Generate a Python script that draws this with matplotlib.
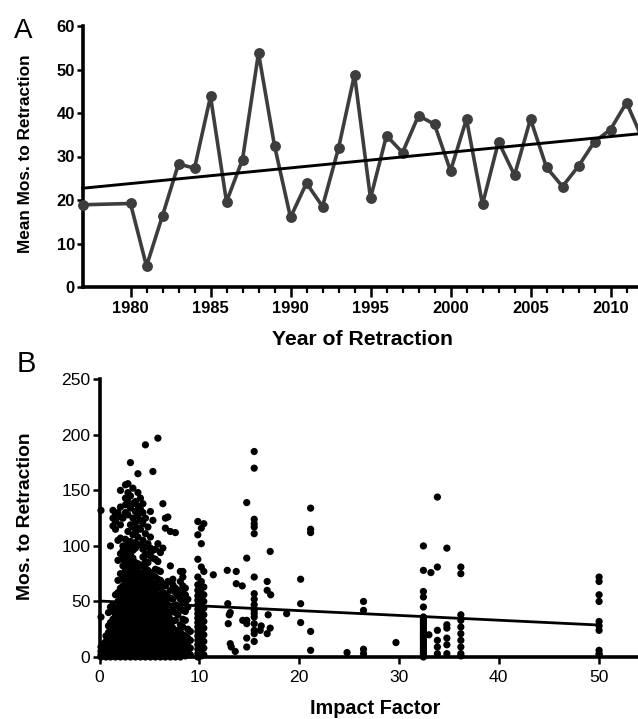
import matplotlib
matplotlib.use('Agg')
import matplotlib.pyplot as plt
import numpy as np

plt.rcParams['font.family'] = ['Liberation Sans', 'DejaVu Sans']

# ---------------- Panel A data ----------------
years = [1977, 1980, 1981, 1982, 1983, 1984, 1985, 1986, 1987, 1988, 1989,
         1990, 1991, 1992, 1993, 1994, 1995, 1996, 1997, 1998, 1999, 2000,
         2001, 2002, 2003, 2004, 2005, 2006, 2007, 2008, 2009, 2010, 2011, 2012]
mean_months = [18.9, 19.2, 4.8, 16.4, 28.3, 27.3, 43.8, 19.6, 29.3, 53.8, 32.5,
               16.0, 23.9, 18.5, 31.9, 48.8, 20.4, 34.8, 30.9, 39.4, 37.4, 26.7,
               38.6, 19.0, 33.4, 25.7, 38.6, 27.5, 23.1, 27.8, 33.4, 36.2, 42.4, 34.0]
trend_a_intercept = 22.7   # value of fitted line at first year
trend_a_slope = 0.36       # months per year

year_ticks = [1980, 1985, 1990, 1995, 2000, 2005, 2010]
a_yticks = [0, 10, 20, 30, 40, 50, 60]

# ---------------- Panel B data ----------------
# dense cluster, grouped by impact-factor column
dense_if = [0.15, 0.4, 0.65, 0.9, 1.1, 1.35, 1.6, 1.85, 2.1, 2.35, 2.6, 2.85,
            3.1, 3.35, 3.6, 3.85, 4.1, 4.35, 4.6, 4.85, 5.1, 5.35, 5.6, 5.85,
            6.1, 6.35, 6.6, 6.85, 7.1, 7.35, 7.6, 7.85, 8.1, 8.35, 8.6, 8.85,
            9.1, 9.85, 10.2, 10.45]
dense_months = [
    [0, 2, 5, 9, 36, 132],
    [1, 4, 8, 12],
    [0, 3, 6, 10, 14, 19],
    [2, 5, 9, 13, 17, 22, 28, 40],
    [0, 3, 7, 11, 15, 20, 25, 31, 45, 100],
    [1, 5, 9, 13, 18, 23, 28, 34, 41, 47, 118, 125, 132],
    [0, 3, 7, 11, 16, 20, 26, 31, 37, 42, 56, 115, 122, 128],
    [2, 6, 10, 14, 18, 23, 28, 33, 38, 44, 50, 58, 69, 87, 105, 130],
    [0, 4, 8, 12, 16, 20, 25, 30, 35, 40, 45, 50, 55, 62, 75, 93, 107, 119, 126, 135, 150],
    [1, 5, 9, 13, 17, 22, 27, 32, 37, 42, 47, 52, 58, 64, 70, 82, 88, 96, 100, 125],
    [0, 3, 7, 11, 15, 19, 24, 29, 34, 39, 44, 49, 54, 60, 66, 72, 78, 85, 92, 98, 106, 130, 137, 143, 155],
    [2, 6, 10, 14, 18, 22, 27, 32, 37, 42, 47, 52, 57, 63, 69, 75, 81, 87, 94, 101, 113, 128, 140, 148, 156],
    [0, 4, 8, 12, 16, 21, 26, 31, 36, 41, 46, 51, 56, 62, 68, 74, 80, 86, 92, 99, 104, 119, 134, 145, 175],
    [1, 5, 9, 13, 17, 22, 27, 32, 37, 42, 47, 52, 58, 64, 70, 76, 83, 89, 96, 110, 117, 125, 138, 152],
    [0, 3, 7, 11, 15, 20, 25, 30, 35, 40, 45, 50, 55, 61, 67, 73, 79, 85, 98, 103, 112, 121, 131, 140],
    [2, 6, 10, 14, 18, 23, 28, 33, 38, 43, 48, 53, 59, 65, 71, 77, 84, 108, 116, 127, 136, 148, 165],
    [0, 4, 8, 12, 16, 21, 26, 31, 36, 41, 46, 51, 56, 62, 68, 75, 82, 101, 115, 123, 133, 143],
    [1, 5, 9, 13, 17, 22, 27, 32, 37, 42, 47, 52, 58, 64, 70, 76, 83, 90, 97, 105, 120, 130, 138],
    [0, 3, 7, 11, 15, 20, 25, 30, 35, 40, 45, 50, 55, 61, 67, 73, 80, 86, 92, 99, 111, 125, 191],
    [2, 6, 10, 14, 18, 23, 28, 33, 38, 43, 48, 53, 59, 65, 71, 78, 85, 93, 102, 117],
    [0, 4, 8, 12, 16, 21, 26, 31, 36, 41, 46, 51, 57, 63, 69, 76, 91, 98, 108, 131],
    [1, 5, 9, 13, 17, 22, 27, 32, 37, 42, 48, 54, 60, 66, 73, 89, 96, 123, 167],
    [0, 3, 7, 11, 15, 20, 25, 30, 35, 40, 46, 52, 58, 65, 72, 79, 88, 97],
    [2, 6, 10, 14, 18, 23, 28, 33, 38, 44, 50, 56, 63, 70, 78, 86, 102, 197],
    [0, 4, 8, 12, 16, 21, 26, 31, 37, 43, 49, 55, 62, 69, 77, 94],
    [1, 5, 9, 13, 17, 22, 27, 33, 39, 45, 51, 58, 66, 98, 138],
    [0, 3, 7, 11, 15, 20, 25, 31, 37, 43, 50, 57, 64, 116, 125],
    [2, 6, 10, 14, 19, 24, 29, 35, 41, 47, 54, 68, 126],
    [0, 4, 8, 13, 18, 23, 28, 34, 40, 53, 60, 82, 113],
    [1, 5, 10, 15, 20, 26, 32, 45, 52, 65, 70],
    [0, 4, 9, 14, 20, 33, 40, 47, 58, 62, 112],
    [2, 7, 12, 18, 24, 38, 46, 55, 60],
    [0, 5, 10, 16, 22, 29, 44, 52, 68, 77],
    [3, 8, 14, 20, 27, 34, 42, 50, 58, 64, 72, 77],
    [1, 6, 12, 19, 33, 41, 49, 56, 62],
    [4, 10, 17, 25, 45, 52],
    [2, 8, 15, 23],
    [0, 3, 7, 11, 15, 19, 23, 27, 31, 35, 39, 43, 47, 51, 55, 60, 65, 72, 88, 110, 122],
    [1, 5, 9, 13, 17, 21, 25, 29, 33, 37, 41, 45, 49, 53, 57, 62, 68, 81, 102, 116],
    [2, 8, 14, 20, 26, 32, 38, 44, 50, 56, 63, 77, 120],
]

# journals with a single high impact factor (vertical columns)
column_if = [15.5, 14.75, 32.45, 33.85, 34.8, 36.2, 50.05]
column_months = [
    [185, 170, 124, 120, 117, 111, 72, 57, 52, 47, 42, 39, 36, 30, 24, 21, 14],
    [139, 89, 33, 30, 17, 9],
    [100, 78, 59, 54, 45, 36, 34, 32, 30, 28, 26, 24, 22, 20, 18, 16, 14, 12,
     10, 8, 6, 4, 2, 0],
    [144, 81, 24, 15, 9, 3],
    [98, 29, 26, 17, 11, 3],
    [81, 75, 38, 33, 27, 21, 15, 9, 3, 1],
    [72, 68, 56, 50, 32, 28, 24, 6, 3, 2],
]

# remaining scattered points
sparse_if = [11.4, 12.8, 13.7, 12.85, 13.1, 13.0, 12.9, 13.1, 13.2, 13.6, 13.7,
             14.3, 14.35, 33.2, 33.0, 16.8, 16.8, 17.15, 17.1, 16.1, 17.1, 16.8,
             16.2, 16.9, 18.75, 20.15, 20.15, 20.15, 21.15, 21.15, 21.15, 21.15,
             21.15, 24.8, 26.45, 26.45, 26.45, 26.45, 29.7]
sparse_months = [74, 78, 77, 48, 40, 38, 30, 12, 9, 5, 66,
                 64, 33, 76, 20, 68, 60, 56, 95, 24, 26, 21,
                 28, 38, 39, 70, 48, 31, 134, 115, 112, 23,
                 6, 4, 50, 42, 7, 3, 13]

trend_b_intercept = 50.4
trend_b_slope = -0.432

b_xticks = [0, 10, 20, 30, 40, 50]
b_yticks = [0, 50, 100, 150, 200, 250]

# ---------------- Figure ----------------
W, H = 638, 719
fig = plt.figure(figsize=(W / 100, H / 100), dpi=100)


def fx(px):
    return px / W


def fy(py):
    return 1 - py / H


# Panel A
axA = fig.add_axes([fx(82.5), fy(287), fx(650.5 - 82.5), (287 - 26) / H])
axA.plot(years, mean_months, color='#3d3d3d', lw=2.6, marker='o', ms=6.8,
         mfc='#3d3d3d', mec='#3d3d3d', clip_on=False, zorder=3)
ty = np.array([min(years), max(years)])
axA.plot(ty, trend_a_intercept + trend_a_slope * (ty - ty[0]), color='black',
         lw=2.1, zorder=4, clip_on=False)
axA.set_xticks(year_ticks)
axA.set_xticks([y for y in range(1980, 2013) if y not in year_ticks], minor=True)
axA.set_yticks(a_yticks)
axA.set_xlim(1977, 2012.5)
axA.set_ylim(0, 60)
for s in ['top', 'right']:
    axA.spines[s].set_visible(False)
for s in ['left', 'bottom']:
    axA.spines[s].set_linewidth(2.6)
axA.tick_params(axis='x', which='major', length=7.5, width=1.8, pad=2.5,
                labelsize=11.9, direction='out')
axA.tick_params(axis='x', which='minor', length=4.5, width=1.6, direction='out')
axA.tick_params(axis='y', which='major', length=4.5, width=1.8, pad=1,
                labelsize=11.9, direction='out')
for lab in axA.get_xticklabels() + axA.get_yticklabels():
    lab.set_fontweight('bold')

# Panel B
axB = fig.add_axes([fx(99.5), fy(657), fx(549), (657 - 379.3) / H])
xs, ys = [], []
for xv, ms in zip(dense_if, dense_months):
    xs += [xv] * len(ms)
    ys += ms
for xv, ms in zip(column_if, column_months):
    xs += [xv] * len(ms)
    ys += ms
xs += sparse_if
ys += sparse_months
axB.scatter(xs, ys, s=27, color='black', edgecolors='none', clip_on=False, zorder=3)
tb = np.array([0, max(xs)])
axB.plot(tb, trend_b_intercept + trend_b_slope * tb, color='black', lw=2.0,
         zorder=4)
axB.set_xticks(b_xticks)
axB.set_yticks(b_yticks)
axB.set_xlim(0, 55)
axB.set_ylim(0, 250)
for s in ['top', 'right']:
    axB.spines[s].set_visible(False)
for s in ['left', 'bottom']:
    axB.spines[s].set_linewidth(2.6)
axB.tick_params(axis='both', length=5, width=1.8, labelsize=12.6, direction='out')
axB.tick_params(axis='x', pad=4)
axB.tick_params(axis='y', pad=1.5)

# Texts
fig.text(fx(23.5), fy(38), 'A', fontsize=20, ha='center', va='baseline')
fig.text(fx(26.5), fy(372), 'B', fontsize=21, ha='center', va='baseline')
fig.text(fx(362), fy(345), 'Year of Retraction', fontsize=15.2,
         fontweight='bold', ha='center', va='baseline')
fig.text(fx(375), fy(714), 'Impact Factor', fontsize=14.3,
         fontweight='bold', ha='center', va='baseline')
fig.text(fx(26), fy(154), 'Mean Mos. to Retraction', fontsize=12.4,
         fontweight='bold', rotation=90, ha='center', va='center')
fig.text(fx(25.5), fy(516), 'Mos. to Retraction', fontsize=13.9,
         fontweight='bold', rotation=90, ha='center', va='center')

fig.savefig('out.png', dpi=100)
